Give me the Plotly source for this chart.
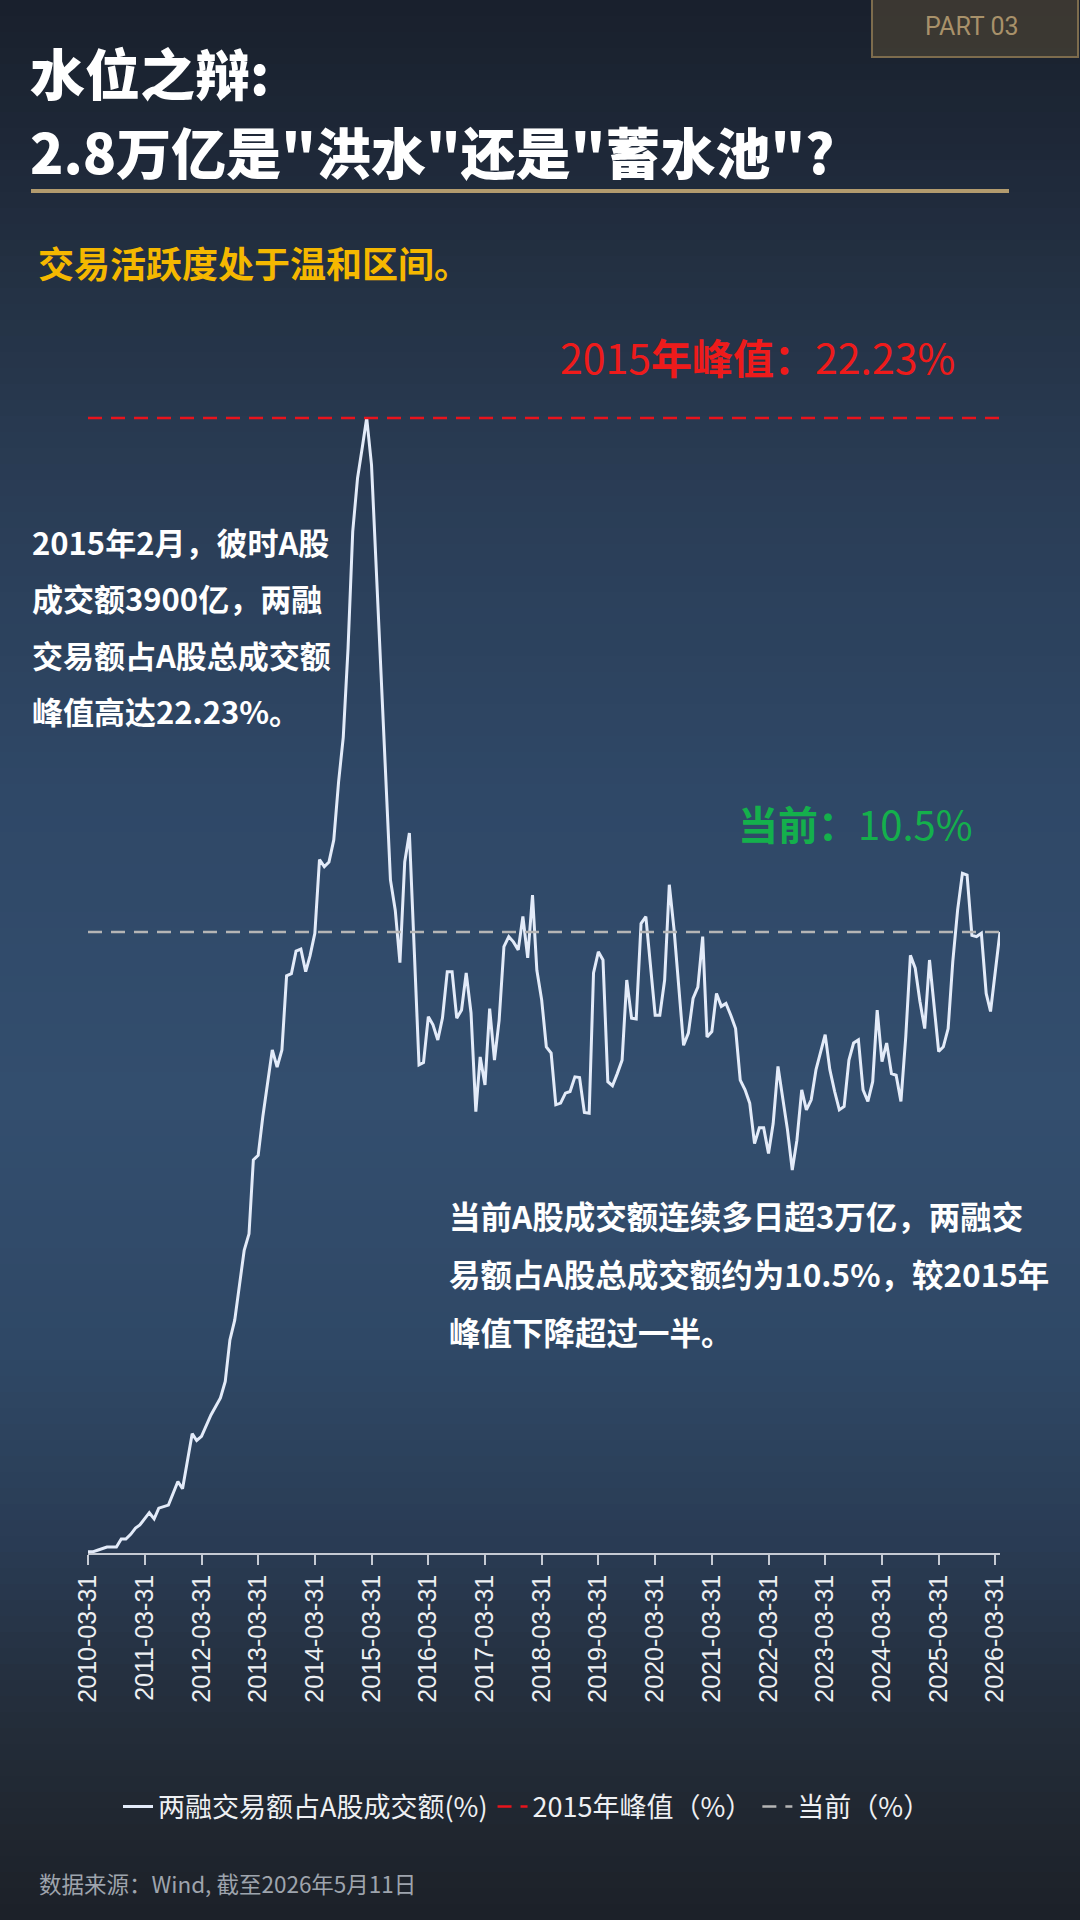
import math
import pandas as pd
import plotly.graph_objects as go

# ---------------- data ----------------
months_2010_2014 = [
    "2010-03", "2010-04", "2010-05", "2010-07", "2010-09", "2010-10", "2010-11", "2010-12",
    "2011-01", "2011-02", "2011-04", "2011-05", "2011-06", "2011-08", "2011-10", "2011-11",
    "2012-01", "2012-02", "2012-03", "2012-05", "2012-07", "2012-08", "2012-09", "2012-10",
    "2012-12", "2013-01", "2013-02", "2013-03", "2013-04", "2013-05", "2013-06", "2013-07",
    "2013-08", "2013-09", "2013-10", "2013-11", "2013-12", "2014-01", "2014-02", "2014-03",
    "2014-04", "2014-05", "2014-06", "2014-07", "2014-08", "2014-09", "2014-10", "2014-11",
    "2014-12",
]
ratio_2010_2014 = [
    4.25, 4.25, 4.26, 4.28, 4.28, 4.33, 4.33, 4.36,
    4.40, 4.42, 4.50, 4.46, 4.53, 4.55, 4.71, 4.66,
    5.05, 5.00, 5.03, 5.19, 5.32, 5.45, 5.79, 5.96,
    6.60, 6.76, 7.53, 7.58, 8.02, 8.46, 8.84, 8.62,
    8.84, 9.85, 9.88, 10.21, 10.24, 9.91, 10.14, 10.48,
    11.67, 11.55, 11.63, 12.01, 13.07, 13.95, 15.89, 18.83,
    20.36,
]

months_2015_2019 = [
    "2015-01", "2015-02", "2015-03", "2015-04", "2015-05", "2015-06", "2015-07", "2015-08",
    "2015-09", "2015-10", "2015-11", "2016-01", "2016-02", "2016-03", "2016-04", "2016-05",
    "2016-06", "2016-07", "2016-08", "2016-09", "2016-10", "2016-11", "2016-12", "2017-01",
    "2017-02", "2017-03", "2017-04", "2017-05", "2017-06", "2017-07", "2017-08", "2017-09",
    "2017-10", "2017-11", "2017-12", "2018-01", "2018-02", "2018-03", "2018-04", "2018-05",
    "2018-06", "2018-07", "2018-08", "2018-09", "2018-10", "2018-11", "2018-12", "2019-01",
    "2019-02", "2019-03", "2019-04", "2019-05", "2019-06", "2019-07", "2019-08", "2019-09",
    "2019-10", "2019-11", "2019-12",
]
ratio_2015_2019 = [
    21.31, 22.23, 20.76, 17.87, 15.39, 13.33, 11.33, 10.84,
    10.04, 11.63, 12.13, 8.65, 8.68, 9.28, 9.17, 8.97,
    9.26, 9.91, 9.91, 9.26, 9.37, 9.89, 9.33, 8.08,
    8.75, 8.40, 9.39, 8.71, 9.23, 10.28, 10.43, 10.35,
    10.23, 10.74, 10.11, 11.08, 9.93, 9.51, 8.88, 8.80,
    8.16, 8.18, 8.30, 8.32, 8.50, 8.49, 8.07, 8.06,
    9.89, 10.20, 10.08, 8.44, 8.39, 8.54, 8.71, 9.79,
    9.26, 9.25, 10.63,
]

months_2020_2026 = [
    "2020-01", "2020-02", "2020-03", "2020-04", "2020-05", "2020-06", "2020-07", "2020-09",
    "2020-10", "2020-11", "2020-12", "2021-01", "2021-02", "2021-03", "2021-04", "2021-05",
    "2021-06", "2021-07", "2021-08", "2021-09", "2021-10", "2021-11", "2021-12", "2022-01",
    "2022-02", "2022-03", "2022-04", "2022-05", "2022-06", "2022-07", "2022-08", "2022-09",
    "2022-10", "2022-11", "2022-12", "2023-01", "2023-03", "2023-04", "2023-05", "2023-06",
    "2023-07", "2023-08", "2023-09", "2023-10", "2023-11", "2023-12", "2024-01", "2024-02",
    "2024-03", "2024-04", "2024-05", "2024-06", "2024-07", "2024-08", "2024-09", "2024-10",
    "2024-11", "2024-12", "2025-01", "2025-02", "2025-03", "2025-04", "2025-05", "2025-06",
    "2025-07", "2025-08", "2025-09", "2025-10", "2025-11", "2025-12", "2026-01", "2026-02",
    "2026-03", "2026-04",
]
ratio_2020_2026 = [
    10.74, 9.98, 9.30, 9.30, 9.79, 11.25, 10.53, 8.90,
    9.06, 9.53, 9.69, 10.43, 9.01, 9.08, 9.60, 9.42,
    9.46, 9.30, 9.12, 8.46, 8.34, 8.18, 7.71, 7.89,
    7.89, 7.60, 7.94, 8.63, 8.26, 7.87, 7.42, 7.75,
    8.34, 8.10, 8.22, 8.59, 9.04, 8.59, 8.32, 8.10,
    8.14, 8.71, 8.93, 8.97, 8.34, 8.20, 8.44, 9.37,
    8.69, 8.93, 8.54, 8.52, 8.20, 9.01, 10.15, 9.96,
    9.49, 9.12, 10.08, 9.42, 8.82, 8.88, 9.12, 10.06,
    10.84, 11.44, 11.41, 10.45, 10.43, 10.48, 9.60, 9.35,
    9.93, 10.50,
]

peak_2015 = 22.23
current_level = 10.5
x_start, x_end = "2010-03-31", "2026-04-30"
tick_dates = [f"{y}-03-31" for y in range(2010, 2027)]

series_names = ["两融交易额占A股成交额(%)", "2015年峰值（%）", "当前（%）"]

months = months_2010_2014 + months_2015_2019 + months_2020_2026
ratio = ratio_2010_2014 + ratio_2015_2019 + ratio_2020_2026
dates = (pd.to_datetime(months, format="%Y-%m") + pd.offsets.MonthEnd(0)).strftime("%Y-%m-%d").tolist()

# ---------------- layout geometry ----------------
W, H = 1080, 1920
ML, MR, MT, MB = 88, 80, 400, 367
PW, PH = W - ML - MR, H - MT - MB
BASE = H - MB


def px(x):
    return (x - ML) / PW


def py(y):
    return (BASE - y) / PH


CJK = "Noto Sans CJK SC"

fig = go.Figure()
fig.add_trace(go.Scatter(
    x=dates, y=ratio, mode="lines", name=series_names[0],
    line=dict(color="#e3ebf9", width=3), hoverinfo="skip"))
fig.add_trace(go.Scatter(
    x=[x_start, x_end], y=[peak_2015, peak_2015], mode="lines", name=series_names[1],
    line=dict(color="#e8141c", width=2.5, dash="14px,9px"), hoverinfo="skip"))
fig.add_trace(go.Scatter(
    x=[x_start, x_end], y=[current_level, current_level], mode="lines", name=series_names[2],
    line=dict(color="#b5b5b5", width=2.5, dash="14px,9px"), hoverinfo="skip"))

# ---------------- background gradient ----------------
stops = [
    (0, (25, 32, 44)), (150, (30, 40, 56)), (300, (36, 50, 69)), (500, (42, 61, 86)),
    (800, (47, 72, 103)), (1100, (51, 78, 110)), (1350, (47, 72, 102)), (1550, (41, 59, 83)),
    (1700, (36, 46, 60)), (1800, (33, 40, 50)), (1920, (28, 33, 40)),
]


def col_at(y):
    for (y0, c0), (y1, c1) in zip(stops[:-1], stops[1:]):
        if y0 <= y <= y1:
            t = (y - y0) / (y1 - y0)
            return "rgb(%d,%d,%d)" % tuple(round(a + (b - a) * t) for a, b in zip(c0, c1))
    return "rgb(%d,%d,%d)" % stops[-1][1]


shapes = []
band = 16
for y0 in range(0, H, band):
    shapes.append(dict(
        type="rect", xref="paper", yref="paper", layer="below",
        x0=px(0), x1=px(W), y0=py(y0 + band + 1), y1=py(y0),
        fillcolor=col_at(y0 + band / 2), line=dict(width=0)))

# gold rule under the title
shapes.append(dict(type="line", xref="paper", yref="paper", x0=px(31), x1=px(1009),
                   y0=py(191), y1=py(191), line=dict(color="#b29b6e", width=4)))
# PART 03 box
shapes.append(dict(type="rect", xref="paper", yref="paper", x0=px(872), x1=px(1078),
                   y0=py(57), y1=py(-2), fillcolor="rgba(82,72,54,0.6)",
                   line=dict(color="#7d6c4d", width=2)))

annotations = []


def note(text, x, y, size, color, anchor="left", weight="bold", family=CJK):
    annotations.append(dict(
        text=text, x=px(x), y=py(y), xref="paper", yref="paper", showarrow=False,
        xanchor=anchor, yanchor="middle", align="left" if anchor == "left" else "center",
        font=dict(family=family, size=size, color=color, weight=weight)))


note("PART 03", 972, 27, 25, "#a8916a", anchor="center", weight=400, family="Roboto")
note("水位之辩:", 28, 71, 55, "#ffffff", weight=900)
note('2.8万亿是"洪水"还是"蓄水池"?', 28, 150, 55, "#ffffff", weight=900)
note("交易活跃度处于温和区间。", 36, 262, 36, "#f5b800")
note("2015<b>年峰值：</b>22.23%", 757, 356, 41, "#ee1b1b", anchor="center", weight=400)
note("<b>当前：</b>10.5%", 855, 823, 40, "#14b04c", anchor="center", weight=400)

left_lines = ["2015年2月，彼时A股", "成交额3900亿，两融", "交易额占A股总成交额", "峰值高达22.23%。"]
for i, t in enumerate(left_lines):
    note(t, 30, 541 + i * 56.5, 31, "#ffffff")

right_lines = ["当前A股成交额连续多日超3万亿，两融交", "易额占A股总成交额约为10.5%，较2015年", "峰值下降超过一半。"]
for i, t in enumerate(right_lines):
    note(t, 447, 1215 + i * 58, 31.5, "#ffffff")

note("数据来源：Wind, 截至2026年5月11日", 37, 1883, 22.5, "#9ea4ad", weight=400)

fig.update_layout(
    width=W, height=H,
    margin=dict(l=ML, r=MR, t=MT, b=MB, pad=0),
    paper_bgcolor="#1c2129", plot_bgcolor="rgba(0,0,0,0)",
    shapes=shapes, annotations=annotations,
    showlegend=True,
    legend=dict(orientation="h", x=px(527), xanchor="center", y=py(1807), yanchor="middle",
                font=dict(family=CJK, size=27, color="#eef0f3"), bgcolor="rgba(0,0,0,0)",
                itemwidth=30),
    xaxis=dict(type="date", range=[x_start, x_end], tickvals=tick_dates, tickformat="%Y-%m-%d",
               tickangle=-90, tickfont=dict(family="Liberation Sans", size=25, color="#eef0f3"),
               showline=True, linecolor="#c5cad3", linewidth=1.5, ticks="outside", ticklen=10,
               tickcolor="#c5cad3", tickwidth=1.5, showgrid=False, zeroline=False, fixedrange=True),
    yaxis=dict(type="log", range=[math.log10(4.243), math.log10(22.82)], visible=False,
               showgrid=False, zeroline=False, fixedrange=True),
    hovermode=False,
)

fig.write_html(
    "out.html",
    config={"displayModeBar": False},
    post_script="document.body.style.margin='0';document.body.style.overflow='hidden';",
)
